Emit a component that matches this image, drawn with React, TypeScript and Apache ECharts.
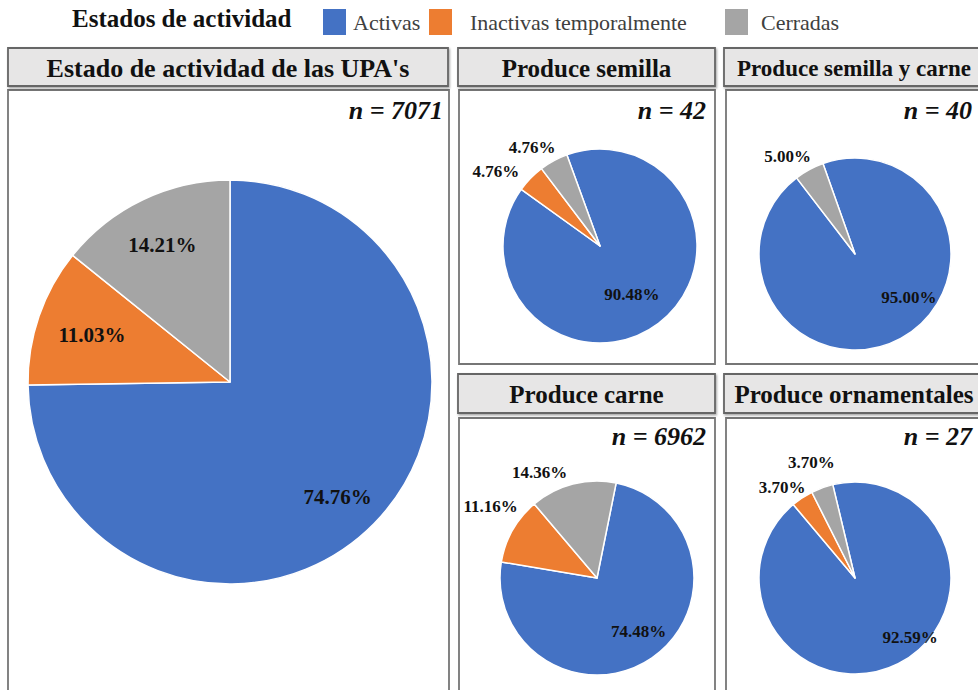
import React, { useEffect, useRef } from "react";
import * as echarts from "echarts";

// ---- Data ----
const categories = ["Activas", "Inactivas temporalmente", "Cerradas"];
const categoryColors = ["#4472C4", "#ED7D31", "#A5A5A5"];
const legendTitle = "Estados de actividad";
const panelTitles = [
  "Estado de actividad de las UPA's",
  "Produce semilla",
  "Produce semilla y carne",
  "Produce carne",
  "Produce ornamentales",
];
const panelN = [7071, 42, 40, 6962, 27];
const totalPct = [74.76, 11.03, 14.21];
const semillaPct = [90.48, 4.76, 4.76];
const semillaCarnePct = [95.0, 0, 5.0];
const carnePct = [74.48, 11.16, 14.36];
const ornamentalesPct = [92.59, 3.7, 3.7];
const panelValues = [totalPct, semillaPct, semillaCarnePct, carnePct, ornamentalesPct];

// ---- Layout (positions / styles) ----
const FONT = "'Liberation Serif', 'Times New Roman', serif";
const layouts = [
  { title: [8, 48, 440, 38], tSize: 26, panel: [8, 90, 441, 620], center: [230, 382], r: 202, start: 90, allInside: true, labelR: 0.76, inSize: 21, outLen: [9, 15], nudge: [[-4, 5], [10, 4], [0, 4]], nX: 443, nY: 110 },
  { title: [458, 48, 257, 38], tSize: 25, panel: [459, 90, 256, 274], center: [600, 246], r: 97, start: 110, allInside: false, labelR: 0.6, inSize: 17, outLen: [9, 15], nudge: [[-5, 0], [0, 0], [14, 0]], nX: 706, nY: 110 },
  { title: [724, 48, 260, 38], tSize: 23, panel: [726, 90, 270, 274], center: [855, 254], r: 96, start: 109.5, allInside: false, labelR: 0.6, inSize: 17, outLen: [9, 15], nudge: [[25, -10], [0, 0], [14, 0]], nX: 972, nY: 110 },
  { title: [458, 374, 257, 39], tSize: 25, panel: [459, 418, 256, 290], center: [597, 578], r: 97, start: 78.6, allInside: false, labelR: 0.6, inSize: 17, outLen: [9, 14], nudge: [[7, 3], [18, -19], [3, 2]], nX: 706, nY: 436 },
  { title: [724, 374, 260, 39], tSize: 25, panel: [726, 418, 270, 290], center: [855, 578], r: 96, start: 103.4, allInside: false, labelR: 0.6, inSize: 17, outLen: [12, 27], nudge: [[28, 5], [15, 0], [27, 0]], nX: 972, nY: 436 },
];
const legendLeft = [321, 427, 723];
const legendPad = [1, 12, 7];

const fmt = (p: any) => `${Number(p.value).toFixed(2)}%`;

function buildOption() {
  const graphics: any[] = [];
  graphics.push({
    type: "text",
    left: 72,
    top: 6,
    style: { text: legendTitle, font: `bold 25px ${FONT}`, fill: "#111", textVerticalAlign: "top" },
  });
  const series: any[] = [];
  layouts.forEach((L, k) => {
    const [tx, ty, tw, th] = L.title;
    const [px, py, pw, ph] = L.panel;
    graphics.push({
      type: "rect",
      shape: { x: px, y: py, width: pw, height: ph },
      style: { fill: "#fff", stroke: "#767676", lineWidth: 1.8 },
      z: -10,
    });
    graphics.push({
      type: "rect",
      shape: { x: tx, y: ty, width: tw, height: th },
      style: {
        fill: "#E7E6E6",
        stroke: "#666666",
        lineWidth: 1.8,
        shadowColor: "rgba(0,0,0,0.35)",
        shadowOffsetX: 1,
        shadowOffsetY: 1.5,
        shadowBlur: 2,
      },
      z: -10,
    });
    graphics.push({
      type: "text",
      x: tx + tw / 2,
      y: ty + th / 2 + 1,
      style: {
        text: panelTitles[k],
        font: `bold ${L.tSize}px ${FONT}`,
        fill: "#111",
        textAlign: "center",
        textVerticalAlign: "middle",
      },
      z: 5,
    });
    graphics.push({
      type: "text",
      x: L.nX,
      y: L.nY,
      style: {
        text: `n = ${panelN[k]}`,
        font: `italic bold 26px ${FONT}`,
        fill: "#111",
        textAlign: "right",
        textVerticalAlign: "middle",
      },
      z: 5,
    });

    const items = panelValues[k]
      .map((v, i) => ({ v, i }))
      .filter((d) => d.v > 0);
    const inside = (i: number) => L.allInside || i === 0;
    const labelLayout = (p: any) => {
      const cat = items[p.dataIndex] ? items[p.dataIndex].i : 0;
      const [dx, dy] = L.nudge[cat];
      return { dx, dy, hideOverlap: false };
    };

    series.push({
      type: "pie",
      name: panelTitles[k],
      center: L.center,
      radius: [0, L.r],
      startAngle: L.start,
      clockwise: true,
      silent: true,
      avoidLabelOverlap: false,
      emphasis: { disabled: true },
      itemStyle: { borderColor: "#ffffff", borderWidth: 1.5 },
      labelLine: { show: false, length: 9, length2: 0 },
      labelLayout,
      data: items.map(({ v, i }) => ({
        name: categories[i],
        value: v,
        itemStyle: { color: categoryColors[i] },
        labelLine: { show: false, length: i > 0 ? L.outLen[i - 1] : 9, length2: 0 },
        label: {
          show: !inside(i),
          position: "outside",
          formatter: fmt,
          fontFamily: FONT,
          fontWeight: "bold",
          fontSize: 17,
          color: "#111",
        },
      })),
    });
    series.push({
      type: "pie",
      name: panelTitles[k] + " (etiquetas)",
      center: L.center,
      radius: [L.r * (2 * L.labelR - 1), L.r],
      startAngle: L.start,
      clockwise: true,
      silent: true,
      avoidLabelOverlap: false,
      legendHoverLink: false,
      emphasis: { disabled: true },
      itemStyle: { color: "rgba(0,0,0,0)", borderWidth: 0 },
      labelLine: { show: false },
      labelLayout,
      data: items.map(({ v, i }) => ({
        name: categories[i],
        value: v,
        itemStyle: { color: "rgba(0,0,0,0)" },
        label: {
          show: inside(i),
          position: "inside",
          formatter: fmt,
          fontFamily: FONT,
          fontWeight: "bold",
          fontSize: L.inSize,
          color: "#111",
        },
      })),
    });
  });

  return {
    animation: false,
    backgroundColor: "#ffffff",
    legend: categories.map((c, i) => ({
      data: [{ name: c, itemStyle: { color: categoryColors[i] } }],
      left: legendLeft[i],
      top: 7,
      itemWidth: 25,
      itemHeight: 28,
      itemGap: 0,
      icon: "rect",
      selectedMode: false,
      padding: 0,
      textStyle: {
        fontFamily: FONT,
        fontSize: 22,
        color: "#404040",
        padding: [0, 0, 0, legendPad[i]],
      },
    })),
    graphic: graphics,
    series,
  };
}

export default function App() {
  const ref = useRef<HTMLDivElement>(null);
  useEffect(() => {
    document.body.style.margin = "0";
    if (!ref.current) return;
    const chart = echarts.init(ref.current, undefined, { renderer: "svg" });
    chart.setOption(buildOption() as any);
    return () => chart.dispose();
  }, []);
  return <div ref={ref} style={{ width: 978, height: 690, overflow: "hidden" }} />;
}
